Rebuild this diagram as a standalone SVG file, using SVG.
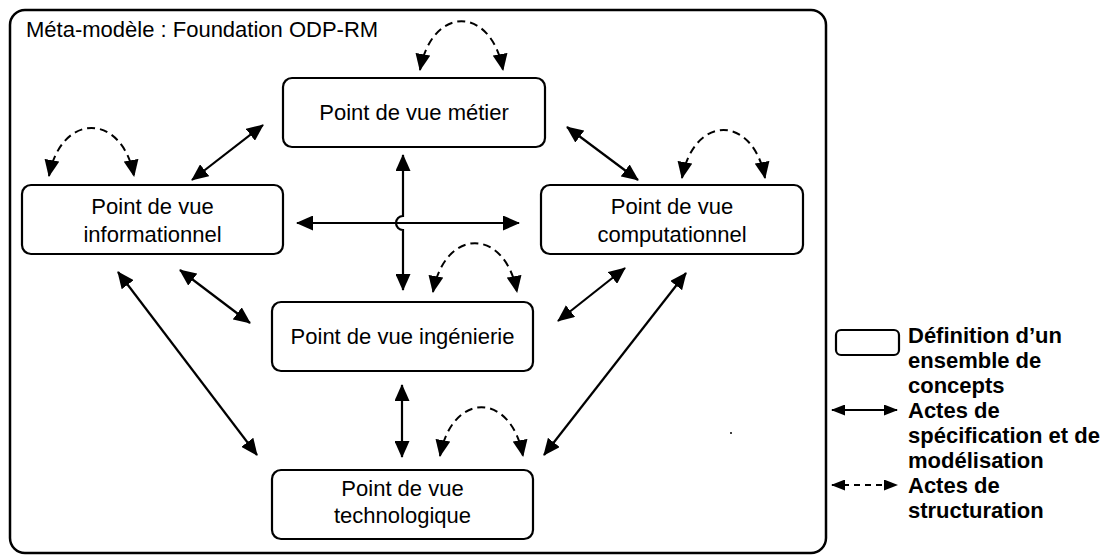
<svg xmlns="http://www.w3.org/2000/svg" width="1104" height="555" viewBox="0 0 1104 555">
<style>
.box{fill:#fff;stroke:#000;stroke-width:2.2}
.frame{fill:none;stroke:#000;stroke-width:2.5}
.t{font-family:"Liberation Sans",Arial,sans-serif;font-size:22px;fill:#000}
.tc{text-anchor:middle}
.lg{font-family:"Liberation Sans",Arial,sans-serif;font-size:22px;font-weight:bold;fill:#000}
.sol{fill:none;stroke:#000;stroke-width:2.2;marker-start:url(#ah);marker-end:url(#ah)}
.dash{fill:none;stroke:#000;stroke-width:2;stroke-dasharray:8 5;marker-start:url(#ah);marker-end:url(#ah)}
.lsol{fill:none;stroke:#000;stroke-width:2.2;marker-start:url(#sm);marker-end:url(#sm)}
.ldash{fill:none;stroke:#000;stroke-width:2;stroke-dasharray:6 5;marker-start:url(#sm);marker-end:url(#sm)}
</style>
<defs>
<marker id="ah" viewBox="0 0 17 15" refX="16" refY="7.5" markerWidth="17" markerHeight="15" markerUnits="userSpaceOnUse" orient="auto-start-reverse"><path d="M0,0 L17,7.5 L0,15 z" fill="#000"/></marker>
<marker id="sm" viewBox="0 0 14 11" refX="13" refY="5.5" markerWidth="14" markerHeight="11" markerUnits="userSpaceOnUse" orient="auto-start-reverse"><path d="M0,0 L14,5.5 L0,11 z" fill="#000"/></marker>
</defs>
<rect width="1104" height="555" fill="#fff"/>
<g id="frame">
<rect class="frame" x="10" y="10" width="816" height="543" rx="15"/>
<text class="t" x="26" y="37">Méta-modèle : Foundation ODP-RM</text>
</g>
<g id="connectors">
<line class="sol" x1="192" y1="180" x2="263" y2="125"/>
<line class="sol" x1="567" y1="127" x2="638" y2="180"/>
<path class="sol" d="M403,155 L403,216 A7,7 0 0,0 403,230 L403,290"/>
<line class="sol" x1="297" y1="223" x2="519" y2="223"/>
<line class="sol" x1="180" y1="270" x2="250" y2="323"/>
<line class="sol" x1="625" y1="268" x2="558" y2="321"/>
<line class="sol" x1="118" y1="272" x2="257" y2="455"/>
<line class="sol" x1="686" y1="273" x2="544" y2="455"/>
<line class="sol" x1="402" y1="385" x2="402" y2="457"/>
<path class="dash" d="M420,70 C432,5 491,5 503,70"/>
<path class="dash" d="M49,176 C61,112 122,112 134,176"/>
<path class="dash" d="M682,178 C694,114 753,114 765,178"/>
<path class="dash" d="M433,292 C445,227 505,227 517,292"/>
<path class="dash" d="M440,456 C452,391 511,391 523,456"/>
</g>
<g id="metier">
<rect class="box" x="283" y="78" width="262" height="69" rx="9"/>
<text class="t tc" x="414" y="120">Point de vue métier</text>
</g>
<g id="informationnel">
<rect class="box" x="22" y="185" width="261" height="69" rx="9"/>
<text class="t tc" x="152.5" y="214">Point de vue</text>
<text class="t tc" x="152.5" y="242">informationnel</text>
</g>
<g id="computationnel">
<rect class="box" x="541" y="185" width="262" height="69" rx="9"/>
<text class="t tc" x="672" y="214">Point de vue</text>
<text class="t tc" x="672" y="242">computationnel</text>
</g>
<g id="ingenierie">
<rect class="box" x="272" y="302" width="261" height="69" rx="9"/>
<text class="t tc" x="402.5" y="344">Point de vue ingénierie</text>
</g>
<g id="technologique">
<rect class="box" x="272" y="470" width="261" height="69" rx="9"/>
<text class="t tc" x="402.5" y="496">Point de vue</text>
<text class="t tc" x="402.5" y="523">technologique</text>
</g>
<g id="legend">
<rect class="box" x="836" y="330" width="63" height="25" rx="5"/>
<line class="lsol" x1="832" y1="410" x2="897" y2="410"/>
<line class="ldash" x1="832" y1="485" x2="897" y2="485"/>
<text class="lg" x="908" y="343">Définition d’un</text>
<text class="lg" x="908" y="368">ensemble de</text>
<text class="lg" x="908" y="393">concepts</text>
<text class="lg" x="908" y="418">Actes de</text>
<text class="lg" x="908" y="443">spécification et de</text>
<text class="lg" x="908" y="468">modélisation</text>
<text class="lg" x="908" y="493">Actes de</text>
<text class="lg" x="908" y="518">structuration</text>
</g>
<circle cx="731" cy="433" r="1" fill="#000"/>
</svg>
